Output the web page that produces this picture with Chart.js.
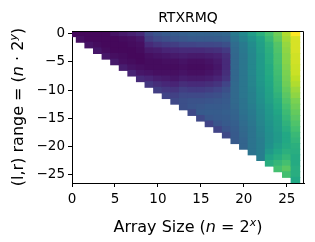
<!DOCTYPE html>
<html><head><meta charset="utf-8">
<script src="https://cdn.jsdelivr.net/npm/chart.js@4.4.0/dist/chart.umd.min.js"></script>
<style>html,body{margin:0;padding:0;background:#fff;}canvas{display:block}</style>
</head><body>
<canvas id="c" width="315" height="242"></canvas>
<script>
// ---- data (values on the colour scale, 0 = dark purple, 100 = yellow) ----
const chartTitle = 'RTXRMQ';
const arraySizeExp = [0,1,2,3,4,5,6,7,8,9,10,11,12,13,14,15,16,17,18,19,20,21,22,23,24,25,26];
const xTicks = [0,5,10,15,20,25];
const yTicks = [0,-5,-10,-15,-20,-25];
// each column x holds the cells for y = 0, -1, ..., -x
const c00 = [2];
const c01 = [2,4];
const c02 = [2,2,5];
const c03 = [2,2,3,6];
const c04 = [2,2,2,3,6];
const c05 = [5,2,2,2,4,7];
const c06 = [7,3,2,2,3,4,8];
const c07 = [9,4,3,2,2,3,5,10];
const c08 = [12,6,4,3,2,2,4,6,12];
const c09 = [22,18,12,7,4,3,3,5,10,16];
const c10 = [26,22,15,8,5,3,3,4,8,13,18];
const c11 = [28,24,17,10,6,4,3,4,7,11,16,20];
const c12 = [29,26,18,11,7,4,3,4,6,10,15,19,22];
const c13 = [30,27,20,12,8,5,4,5,8,13,18,22,24,24];
const c14 = [31,28,20,12,7,4,3,4,7,12,17,22,25,26,22];
const c15 = [31,28,21,12,7,4,3,4,7,12,17,22,25,27,28,22];
const c16 = [31,28,21,13,8,5,4,5,8,13,18,23,26,28,29,27,20];
const c17 = [32,29,22,14,9,7,6,7,10,15,20,24,27,28,29,28,26,20];
const c18 = [33,30,24,17,13,12,12,13,15,20,24,27,28,29,30,29,28,26,22];
const c19 = [41,38,35,34,33,33,33,33,33,34,34,34,34,33,32,31,30,29,28,28];
const c20 = [47,44,41,40,39,39,39,39,39,39,39,39,38,38,37,36,35,34,33,32,32];
const c21 = [55,51,48,47,46,46,46,46,45,45,44,43,43,42,41,40,39,38,38,38,38,38];
const c22 = [63,58,56,55,54,54,54,53,53,52,51,50,49,48,47,46,45,44,43,42,42,42,42];
const c23 = [70,67,64,63,62,62,61,61,60,59,58,57,56,54,53,52,51,50,49,49,50,53,58,62];
const c24 = [78,76,73,72,71,71,70,69,68,67,66,64,62,61,59,57,56,55,54,54,56,59,62,66,70];
const c25 = [88,86,84,83,82,82,81,80,79,78,76,74,72,70,68,66,64,62,60,60,61,63,66,70,74,70];
const c26 = [100,94,94,94,93,93,92,92,90,88,85,83,80,78,76,74,72,70,67,65,63,62,61,61,62,62,60];
const columns = [c00,c01,c02,c03,c04,c05,c06,c07,c08,c09,c10,c11,c12,c13,c14,c15,c16,c17,c18,c19,c20,c21,c22,c23,c24,c25,c26];

// ---- viridis colour map ----
const viridisStops = ['#440154','#482475','#414487','#355f8d','#2a788e','#21918c','#22a884','#44bf70','#7ad151','#bddf26','#fde725'];
function hexToRgb(h){return [parseInt(h.slice(1,3),16),parseInt(h.slice(3,5),16),parseInt(h.slice(5,7),16)];}
function viridis(t){
  t = Math.max(0, Math.min(1, t));
  const p = t * (viridisStops.length - 1);
  const i = Math.min(Math.floor(p), viridisStops.length - 2);
  const f = p - i;
  const a = hexToRgb(viridisStops[i]), b = hexToRgb(viridisStops[i+1]);
  return 'rgb(' + a.map((v,j)=>Math.round(v + (b[j]-v)*f)).join(',') + ')';
}

const cells = [], colors = [];
arraySizeExp.forEach((x, i) => {
  columns[i].forEach((v, k) => {
    cells.push({x: x, y: [-k - 0.5, -k + 0.5]});
    colors.push(viridis(v / 100));
  });
});

const FONT = 'DejaVu Sans';
const tickFont = {family: FONT, size: 13.5, weight: 'normal'};

const framePlugin = {
  id: 'frame',
  afterDatasetsDraw(chart) {
    const {ctx, chartArea: a} = chart;
    ctx.save();
    ctx.strokeStyle = '#000';
    ctx.lineWidth = 1;
    ctx.beginPath();
    const t = Math.round(a.top) + 0.5, r = Math.round(a.right) - 0.5;
    ctx.moveTo(a.left, t); ctx.lineTo(r, t); ctx.lineTo(r, a.bottom);
    ctx.stroke();
    ctx.restore();
  }
};

function drawRich(ctx, parts, cx, cy, rot) {
  ctx.save();
  ctx.translate(cx, cy);
  if (rot) ctx.rotate(rot);
  ctx.fillStyle = '#000';
  ctx.textBaseline = 'alphabetic';
  let total = 0;
  parts.forEach(p => { ctx.font = p.font; p.w = ctx.measureText(p.t).width; total += p.w; });
  let x = -total / 2;
  parts.forEach(p => { ctx.font = p.font; ctx.fillText(p.t, x, 6 - (p.rise || 0)); x += p.w; });
  ctx.restore();
}

const labelPlugin = {
  id: 'axisLabels',
  afterDraw(chart) {
    const {ctx, chartArea: a} = chart;
    const n = '16px "' + FONT + '"', it = 'italic 16px "' + FONT + '"', sup = 'italic 11px "' + FONT + '"';
    drawRich(ctx, [{t: chartTitle, font: '14px "' + FONT + '"'}], (a.left + a.right) / 2, 15.5, 0);
    drawRich(ctx, [
      {t: 'Array Size (', font: n},
      {t: 'n', font: it},
      {t: ' = 2', font: n},
      {t: 'x', font: sup, rise: 6},
      {t: ')', font: n}
    ], (a.left + a.right) / 2, 226, 0);
    drawRich(ctx, [
      {t: '(l,r) range = (', font: n},
      {t: 'n', font: it},
      {t: ' \u00b7 2', font: n},
      {t: 'y', font: sup, rise: 6},
      {t: ')', font: n}
    ], 17, (a.top + a.bottom) / 2, -Math.PI / 2);
  }
};

new Chart(document.getElementById('c'), {
  type: 'bar',
  data: {datasets: [{
    data: cells, backgroundColor: colors, borderWidth: 0,
    barPercentage: 1, categoryPercentage: 1, inflateAmount: 0.5, clip: 0
  }]},
  options: {
    responsive: false, animation: false, devicePixelRatio: 1,
    layout: {padding: {left: 0, right: 11, top: 31, bottom: 0}},
    plugins: {legend: {display: false}, tooltip: {enabled: false}, title: {display: false}},
    scales: {
      x: {
        type: 'linear', min: 0, max: 27, offset: false,
        grid: {offset: false, display: true, drawOnChartArea: false, drawTicks: true, tickLength: 4, color: '#000'},
        border: {display: true, color: '#000', width: 1},
        ticks: {color: '#000', font: tickFont, padding: 4, maxRotation: 0, autoSkip: false},
        afterBuildTicks: s => { s.ticks = xTicks.map(v => ({value: v})); },
        afterFit: s => { s.height = 59; }
      },
      y: {
        type: 'linear', min: -26.5, max: 0.5,
        grid: {display: true, drawOnChartArea: false, drawTicks: true, tickLength: 4, color: '#000'},
        border: {display: true, color: '#000', width: 1},
        ticks: {color: '#000', font: tickFont, padding: 3, autoSkip: false,
          callback: v => String(v).replace('-', '\u2212')},
        afterBuildTicks: s => { s.ticks = yTicks.map(v => ({value: v})); },
        afterFit: s => { s.width = 72; }
      }
    }
  },
  plugins: [framePlugin, labelPlugin]
});
</script>
</body></html>
